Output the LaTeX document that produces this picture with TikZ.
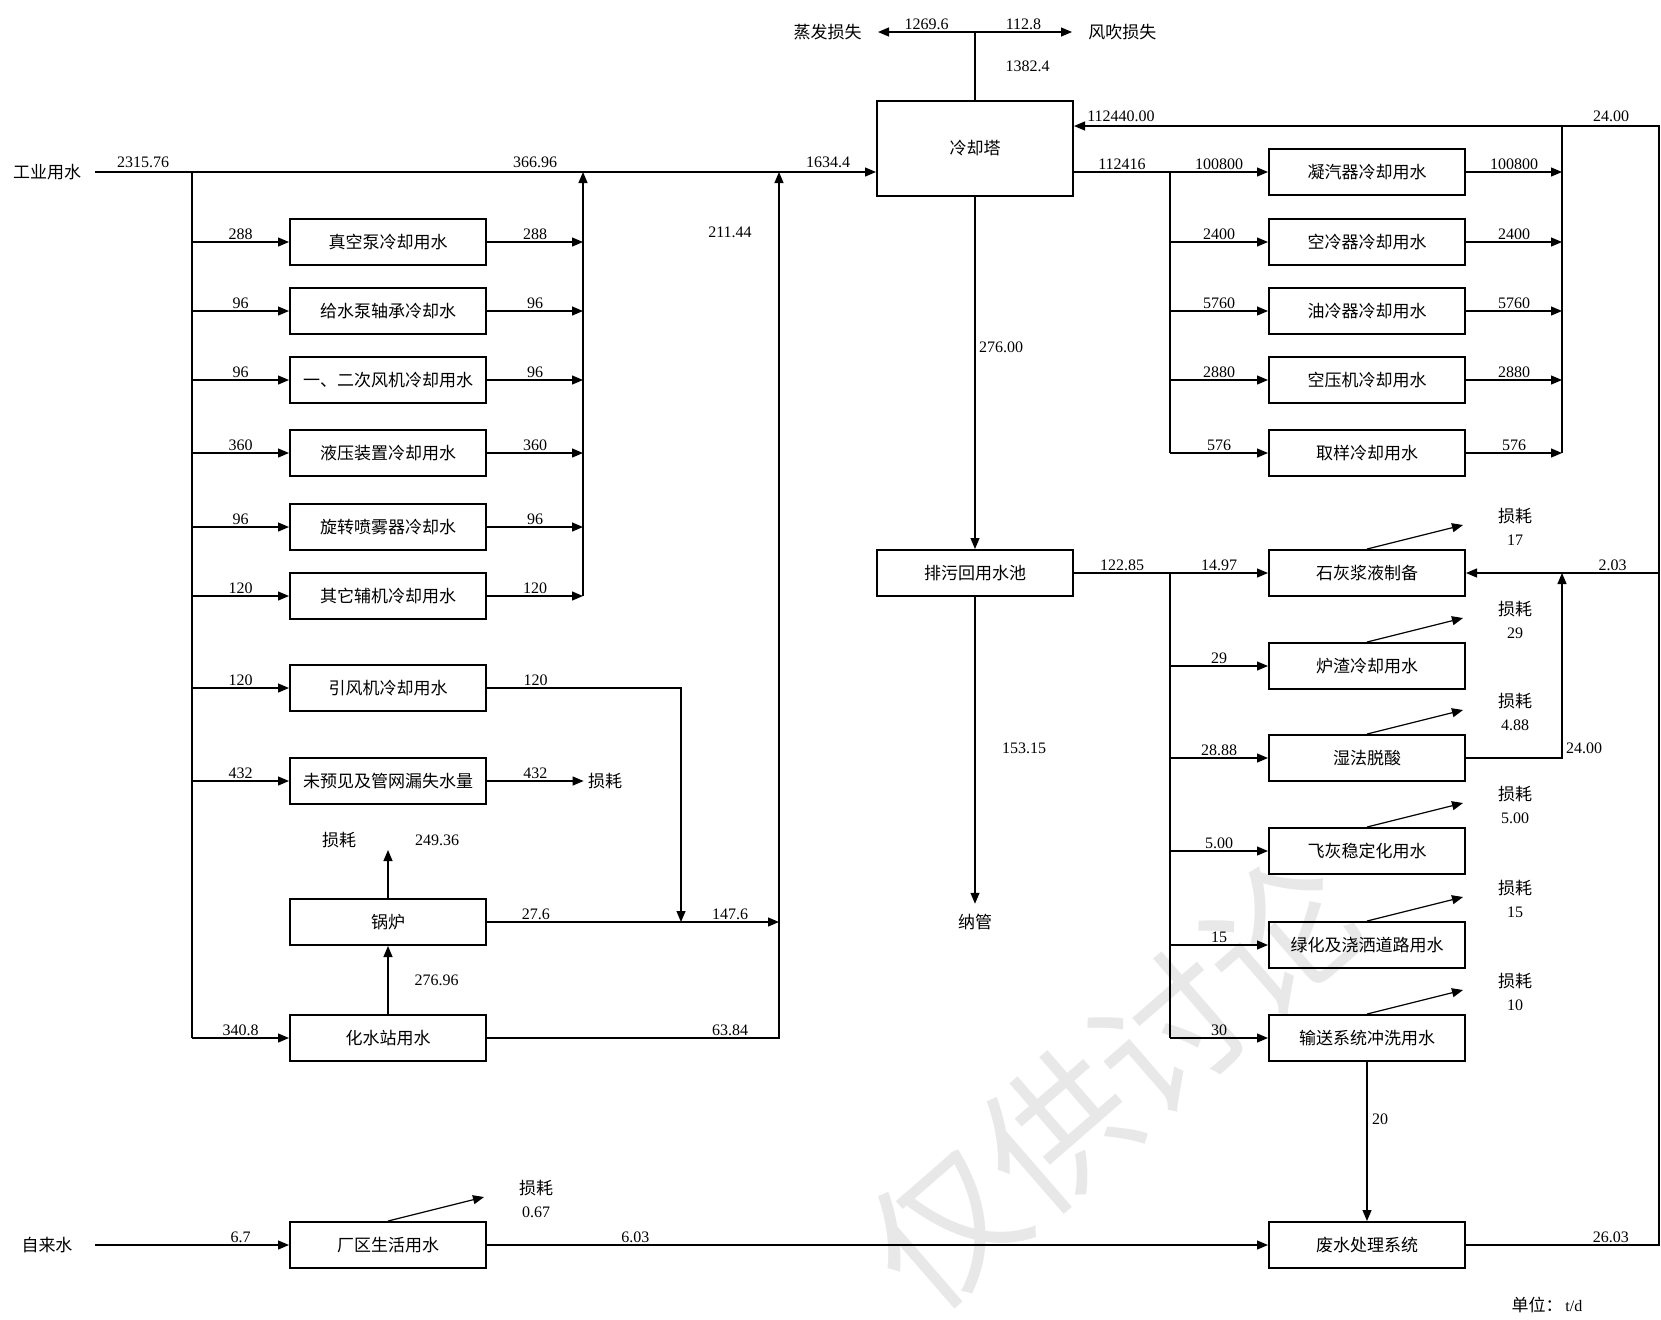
\documentclass[tikz,border=0pt]{standalone}
\usepackage{fontspec}
\setmainfont{Liberation Serif}
\newfontfamily\cjk{Noto Sans CJK SC}
\usetikzlibrary{arrows.meta,positioning,calc}
\newcommand{\cnfont}{\cjk\fontsize{8.5}{10.5}\selectfont}
\newcommand{\numfont}{\fontsize{8}{9.6}\selectfont}
\tikzset{
  box/.style={draw, line width=1pt, minimum width=98pt, minimum height=23pt, inner sep=1pt, font=\cnfont},
  flow/.style={-{Triangle[length=5.5pt,width=4.5pt]}, line width=0.6pt},
  pipe/.style={line width=0.6pt},
  num/.style={font=\numfont, inner sep=1pt},
  zh/.style={font=\cnfont},
  loss/.style={font=\fontsize{8}{11.5}\selectfont, align=center, inner sep=0pt},
}

\begin{document}
\begin{tikzpicture}[x=0.5pt,y=-0.5pt]
\useasboundingbox (0,0) rectangle (1661,1319);
% watermark
\node[rotate=41, text=black!9, font=\cjk\fontsize{74}{74}\selectfont] (wm) at (1113,1082) {仅供讨论};

% cooling tower and losses on top
\node[box, minimum height=47.5pt] (tower) at (975,148.5) {冷却塔};
\node[zh, inner sep=8pt, anchor=east] (evap) at (878,32) {蒸发损失};
\node[zh, inner sep=8pt, anchor=west] (wind) at (1072,32) {风吹损失};
\coordinate (top) at (975,32);
\draw[pipe] (tower.north) -- node[num, right=14pt]{1382.4} (top);
\draw[flow] (top) -- node[num,above]{1269.6} (evap.east);
\draw[flow] (top) -- node[num,above]{112.8} (wind.west);

% industrial water, left side
\node[zh] (indw) at (47,172) {工业用水};
\coordinate (in1) at (95,172);
\coordinate (trunkL) at (192,172);
\coordinate (colL) at (583,172);
\coordinate (colM) at (779,172);
\draw[flow] (in1) -- (in1 -| tower.west);
\node[num] at (143,162) {2315.76};
\node[num] at (535,162) {366.96};
\node[num] at (828,162) {1634.4};
\node[num] at (730,232) {211.44};

\foreach \nm/\yy/\q/\txt in {vac/242/288/真空泵冷却用水, feed/311/96/给水泵轴承冷却水,
    fan/380/96/一、二次风机冷却用水, hyd/453/360/液压装置冷却用水,
    spray/527/96/旋转喷雾器冷却水, aux/596/120/其它辅机冷却用水}{
  \node[box] (\nm) at (388,\yy) {\txt};
  \draw[flow] (\nm.west -| trunkL) -- node[num,above]{\q} (\nm.west);
  \draw[flow] (\nm.east) -- node[num,above]{\q} (\nm.east -| colL);
}
\draw[flow] (colL |- aux.east) -- (colL);

\node[box] (idf) at (388,688) {引风机冷却用水};
\node[box] (leak) at (388,781) {未预见及管网漏失水量};
\node[box] (boiler) at (388,922) {锅炉};
\node[box] (demin) at (388,1038) {化水站用水};
\node[zh, inner sep=2pt] (leakloss) at (605,781) {损耗};
\coordinate (bl) at (388,850);
\coordinate (jn) at (681,922);

\draw[pipe] (trunkL) -- (trunkL |- demin.west);
\draw[flow] (trunkL |- idf.west) -- node[num,above]{120} (idf.west);
\draw[flow] (trunkL |- leak.west) -- node[num,above]{432} (leak.west);
\draw[flow] (trunkL |- demin.west) -- node[num,above]{340.8} (demin.west);
\draw[flow] (leak.east) -- node[num,above]{432} (leakloss.west);
\draw[flow] (idf.east) -- node[num,above,pos=0.25]{120} (idf.east -| jn) -- (jn);
\draw[flow] (boiler.east) -- node[num,above,pos=0.167]{27.6}
  node[num,above,pos=0.833]{147.6} (boiler.east -| colM);
\draw[flow] (demin.east) -- node[num,above,pos=0.833]{63.84} (demin.east -| colM) -- (colM);
\draw[flow] (demin.north) -- node[num,right=12pt]{276.96} (boiler.south);
\draw[flow] (boiler.north) -- (bl);
\node[zh] at (339,840) {损耗};
\node[num] at (437,840) {249.36};

% circulating cooling water, right side
\coordinate (trunkR) at (1170,172);
\coordinate (colR) at (1562,172);
\coordinate (ret) at (1659,126);
\foreach \nm/\yy/\q/\txt in {cond/172/100800/凝汽器冷却用水, aircool/242/2400/空冷器冷却用水,
    oilcool/311/5760/油冷器冷却用水, comp/380/2880/空压机冷却用水, sample/453/576/取样冷却用水}{
  \node[box] (\nm) at (1367,\yy) {\txt};
  \draw[flow] (\nm.west -| trunkR) -- node[num,above]{\q} (\nm.west);
  \draw[flow] (\nm.east) -- node[num,above]{\q} (\nm.east -| colR);
}
\draw[pipe] (tower.east |- cond.west) -- node[num,above]{112416} (trunkR);
\draw[pipe] (trunkR) -- (trunkR |- sample.west);
\draw[pipe] (colR |- sample.east) -- (colR |- ret);

% blowdown pool
\node[box] (pool) at (975,573) {排污回用水池};
\node[zh, inner sep=5pt] (sewer) at (975,922) {纳管};
\draw[flow] (tower.south) -- (pool.north);
\node[num] at (1001,347) {276.00};
\draw[flow] (pool.south) -- (sewer.north);
\node[num] at (1024,748) {153.15};

\coordinate (trunkR2) at (1170,573);
\draw[pipe] (pool.east) -- node[num,above]{122.85} (trunkR2);
\foreach \nm/\yy/\q/\txt in {lime/573/14.97/石灰浆液制备, slag/666/29/炉渣冷却用水,
    fgd/758/28.88/湿法脱酸, ash/851/5.00/飞灰稳定化用水,
    green/945/15/绿化及浇洒道路用水, convey/1038/30/输送系统冲洗用水}{
  \node[box] (\nm) at (1367,\yy) {\txt};
  \draw[flow] (\nm.west -| trunkR2) -- node[num,above]{\q} (\nm.west);
}
\draw[pipe] (trunkR2) -- (trunkR2 |- convey.west);

% domestic water and wastewater
\node[zh] (tapw) at (47,1245) {自来水};
\coordinate (in2) at (95,1245);
\node[box] (domestic) at (388,1245) {厂区生活用水};
\node[box] (wwt) at (1367,1245) {废水处理系统};
\draw[flow] (in2) -- node[num,above,pos=0.75]{6.7} (domestic.west);
\draw[flow] (domestic.east) -- node[num,above,pos=0.19]{6.03} (wwt.west);
\draw[flow] (convey.south) -- (wwt.north);
\node[num] at (1380,1119) {20};

\foreach \nm/\v in {lime/17, slag/29, fgd/4.88, ash/5.00, green/15, convey/10, domestic/0.67}{
  \draw[flow] (\nm.north) -- ++(96,-24);
  \node[loss] at ($(\nm.north)+(148,-22)$) {{\cnfont 损耗}\\\v};
}

% recycle to tower
\draw[flow] (wwt.east) -- node[num,above,pos=0.75]{26.03} (wwt.east -| ret) -- (ret) -- (ret -| tower.east);
\node[num] at (1611,116) {24.00};
\node[num] at (1121,116) {112440.00};
\draw[flow] (ret |- lime.east) -- node[num,above,pos=0.24]{2.03} (lime.east);
\draw[flow] (fgd.east) -- (fgd.east -| colR) -- (colR |- lime.east);
\node[num] at (1584,748) {24.00};

\node[num] (unit) at (1547,1305) {{\cnfont 单位：}\,t/d};
\end{tikzpicture}
\end{document}
